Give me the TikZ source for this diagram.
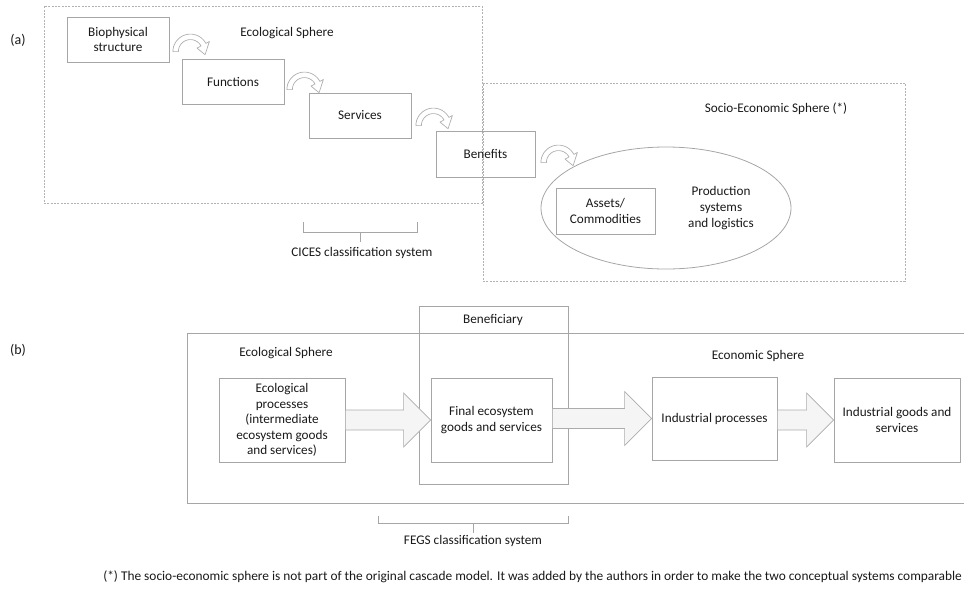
\documentclass[tikz,border=0pt]{standalone}
\usepackage{fontspec}
\setmainfont{Carlito}
\usetikzlibrary{fit,calc,shapes.geometric}
\newcommand\blockarr[2]{%
  \draw[blockst] ($(#1.east |- #2.west)+(0,-10)$) -- ($(#2.west)+(-27,-10)$) -- ($(#2.west)+(-27,-27)$) -- (#2.west) -- ($(#2.west)+(-27,27)$) -- ($(#2.west)+(-27,10)$) -- ($(#1.east |- #2.west)+(0,10)$) -- cycle;}
\begin{document}
\begin{tikzpicture}[x=0.75pt,y=-0.75pt,
  every node/.style={font=\fontsize{9.9}{11.7}\selectfont, text=black!90},
  box/.style={draw=gray!70, line width=0.6pt, inner sep=0pt},
  dbox/.style={draw=gray!60, line width=0.6pt, dash pattern=on 1.5pt off 1pt, inner sep=0pt},
  lbl/.style={align=center, inner sep=0pt},
  bracket/.style={draw=gray!70, line width=0.6pt},
  carrowst/.style={draw=gray!65, fill=white, line width=0.5pt, line join=round},
  blockst/.style={draw=gray!65, fill=gray!8, line width=0.5pt, line join=miter},
  carrow/.pic={\filldraw[carrowst, yscale=-1] plot[domain=180:28,samples=30] (\x:17.5) -- (28:21.5) -- (-12:15) -- (28:7.5) -- (28:12) -- plot[domain=28:180,samples=30] (\x:12) -- cycle;}
]
\useasboundingbox (0,0) rectangle (964,590);

% ---------- panel (a)
\node[lbl, font=\fontsize{10.5}{12}\selectfont] (la) at (18,40) {(a)};
\node[dbox, fit={(44,6) (482,203)}] (ecoa) {};
\node[dbox, fit={(483,83) (905,281)}] (soc) {};
\node[lbl] (ecoat) at (287,33) {Ecological Sphere};
\node[lbl] (soct) at (776,109) {Socio-Economic Sphere (*)};

\node[box, fit={(67,17) (169,62)}] (bio) {};
\node[lbl] at (bio.center) {Biophysical\\structure};
\node[box, fit={(182,59) (284,104)}] (fun) {};
\node[lbl] at (fun.center) {Functions};
\node[box, fit={(309,93) (411,138)}] (ser) {};
\node[lbl] at (ser.center) {Services};
\node[box, fit={(436,131) (535,177)}] (ben) {};
\node[lbl] at (ben.center) {Benefits};

\node[draw=gray!70, line width=0.6pt, ellipse, inner sep=0pt, minimum width=187.5pt, minimum height=91.5pt] (ell) at (666,208) {};
\node[box, fit={(556,188) (655,234)}] (ass) {};
\node[lbl] at (ass.center) {Assets/\\Commodities};
\node[lbl] (prod) at (721,208) {Production\\systems\\and logistics};

\pic at ($(bio.north east)+(21,35)$) {carrow};
\pic at ($(fun.north east)+(20,31)$) {carrow};
\pic at ($(ser.north east)+(22,33)$) {carrow};
\pic at ($(ben.north east)+(23,32)$) {carrow};

\coordinate (c1) at (303,222); \coordinate (c2) at (417,222);
\draw[bracket] (c1) -- ++(0,10) -- ($(c2)+(0,10)$) -- (c2);
\draw[bracket] (360,232) -- (360,242);
\node[lbl] (cices) at (362,253) {CICES classification system};

% ---------- panel (b)
\node[lbl, font=\fontsize{10.5}{12}\selectfont] (lb) at (18,350) {(b)};
\draw[draw=gray!70, line width=0.6pt] (964,333) -- (187,333) -- (187,503) -- (964,503);
\node[box, fit={(419,306) (568,484)}] (bfy) {};
\node[lbl] (bfyt) at (493,320) {Beneficiary};
\node[lbl] (ecobt) at (286,353) {Ecological Sphere};
\node[lbl] (econt) at (758,356) {Economic Sphere};

\node[box, fit={(219,378) (345,462)}] (ecop) {};
\node[lbl] at (ecop.center) {Ecological\\processes\\(intermediate\\ecosystem goods\\and services)};
\node[box, fit={(431,378) (552,462)}] (fin) {};
\node[lbl] at (fin.center) {Final ecosystem\\goods and services};
\node[box, fit={(652,377) (777,460)}] (ind) {};
\node[lbl] at (ind.center) {Industrial processes};
\node[box, fit={(834,378) (960,462)}] (igs) {};
\node[lbl] at (igs.center) {Industrial goods and\\services};

\blockarr{ecop}{fin}
\blockarr{fin}{ind}
\blockarr{ind}{igs}

\coordinate (f1) at (378,516); \coordinate (f2) at (568,516);
\draw[bracket] (f1) -- ++(0,7) -- ($(f2)+(0,7)$) -- (f2);
\draw[bracket] (473,523) -- (473,533);
\node[lbl] (fegs) at (473,541) {FEGS classification system};

\node[lbl, anchor=west] (foot) at (103,577) {\fontsize{10}{11}\selectfont\resizebox{644pt}{\height}{(*) The socio-economic sphere is not part of the original cascade model. It was added by the authors in order to make the two conceptual systems comparable}};
\end{tikzpicture}
\end{document}
